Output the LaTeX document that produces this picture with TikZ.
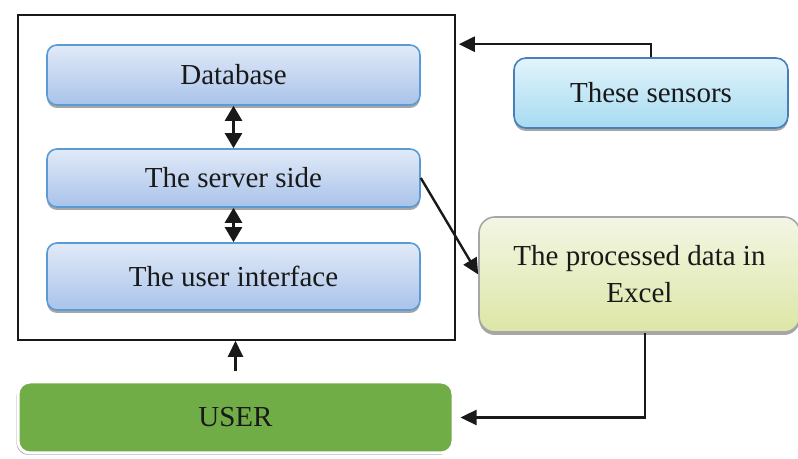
\documentclass[tikz,border=0pt]{standalone}
\usepackage{fontspec}
\setmainfont{Liberation Serif}
\usetikzlibrary{arrows.meta,shadows}
\definecolor{boxline}{HTML}{5B9BD5}
\definecolor{boxtop}{HTML}{E1EAF8}
\definecolor{boxbot}{HTML}{A9C3EA}
\definecolor{senstop}{HTML}{E2F4FB}
\definecolor{sensbot}{HTML}{A6DBF1}
\definecolor{sensline}{HTML}{4A7EBB}
\definecolor{proctop}{HTML}{F3F6E4}
\definecolor{procbot}{HTML}{DDE6A6}
\definecolor{userfill}{HTML}{70AD47}
\begin{document}
\begin{tikzpicture}[x=0.5pt,y=-0.5pt,
    font=\fontsize{14.5}{18.5}\selectfont, text=black!90,
    box/.style={rounded corners=5pt, draw=boxline, line width=0.8pt, top color=boxtop, bottom color=boxbot,
        minimum width=186.5pt, drop shadow={shadow xshift=0pt, shadow yshift=-1.5pt, fill=gray!70, opacity=1}},
    arr/.style={-{Triangle[length=8pt,width=7.5pt]}, line width=1.2pt, black!90},
    darr/.style={{Triangle[length=7.5pt,width=8.5pt]}-{Triangle[length=7.5pt,width=8.5pt]}, line width=1.2pt, black!90}]
    \useasboundingbox (0,0) rectangle (798,459);
    \node[draw=black!90, line width=0.8pt, minimum width=218.5pt, minimum height=162.5pt] (frame) at (236.5,177.5) {};
    \node[box, minimum height=30pt] (db) at (233.5,75) {Database};
    \node[box, minimum height=29pt] (srv) at (233.5,178) {The server side};
    \node[box, minimum height=33.5pt] (ui) at (233.5,276.5) {The user interface};
    \node[rounded corners=6pt, draw=sensline, line width=0.8pt, top color=senstop, bottom color=sensbot,
        minimum width=137pt, minimum height=35pt,
        drop shadow={shadow xshift=0pt, shadow yshift=-1.5pt, fill=gray!70, opacity=1}] (sens) at (651,93) {These sensors};
    \node[rounded corners=8pt, draw=gray!70, line width=0.8pt, top color=proctop, bottom color=procbot,
        minimum width=160.5pt, minimum height=57.5pt, align=center, inner sep=0pt,
        drop shadow={shadow xshift=0pt, shadow yshift=-1.5pt, fill=gray!70, opacity=1}] (proc) at (639.5,274.5)
        {The processed data in\\Excel};
    \node[rounded corners=6pt, fill=userfill, draw=white, line width=1.5pt,
        minimum width=217.5pt, minimum height=35.5pt,
        drop shadow={shadow xshift=-0.8pt, shadow yshift=-1pt, fill=gray!60, opacity=1}] (user) at (235.5,417.5) {USER};
    \draw[darr] (db.south) -- (srv.north);
    \draw[darr] (srv.south) -- (ui.north);
    \draw[arr] (sens.north) |- ([xshift=1.5pt,yshift=-15pt]frame.north east);
    \draw[arr] (srv.east) -- (proc.west);
    \draw[arr] ([xshift=2.75pt]proc.south) |- ([xshift=3pt]user.east);
    \draw[arr, shorten <=4.5pt] (user.north) -- (user.north |- frame.south);
\end{tikzpicture}
\end{document}
